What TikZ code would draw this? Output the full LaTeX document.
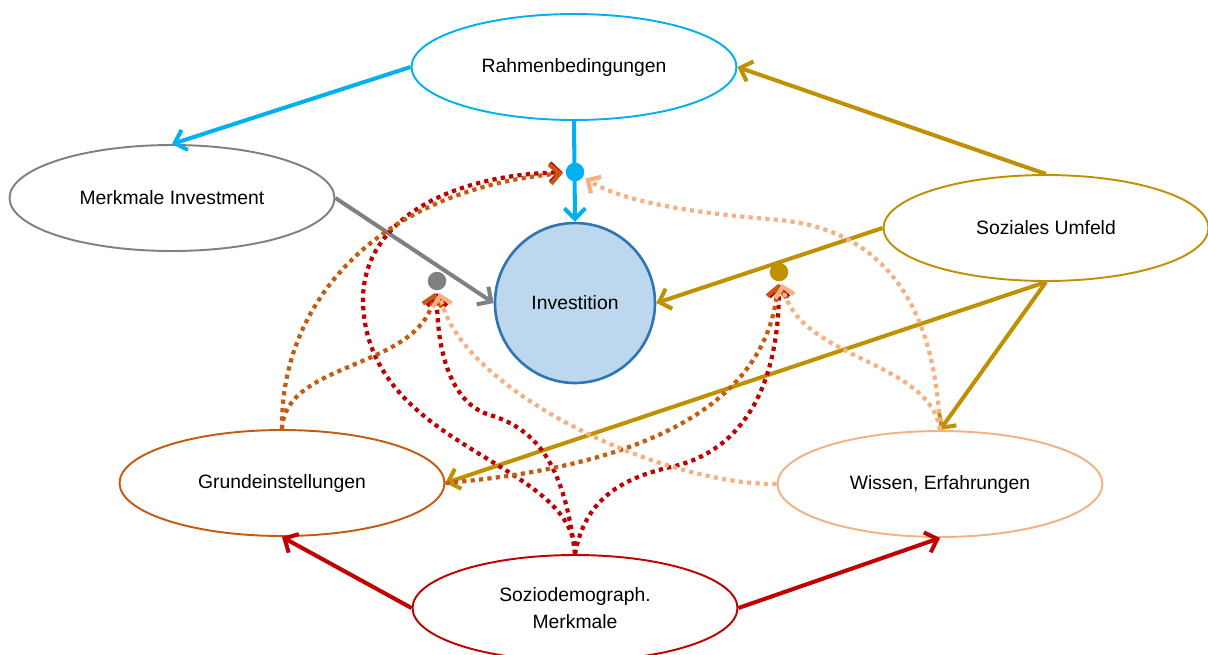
\documentclass[tikz,border=0pt]{standalone}
\usepackage{xcolor}
\usepackage{fontspec}
\setmainfont{Liberation Sans}
\usetikzlibrary{shapes.geometric,arrows.meta}
\definecolor{rahmenblue}{HTML}{00B0F0}
\definecolor{investgray}{HTML}{808080}
\definecolor{umfeldgold}{HTML}{BF9000}
\definecolor{grundorange}{HTML}{C55A11}
\definecolor{wissenorange}{HTML}{F4B183}
\definecolor{soziored}{HTML}{C00000}
\definecolor{investfill}{HTML}{BDD7EE}
\definecolor{investblue}{HTML}{2E75B6}

\tikzset{
  factor/.style={ellipse, draw=#1, line width=1.1pt, fill=white,
    minimum width=6.5cm, minimum height=2.12cm, align=center,
    font=\fontsize{11}{15}\selectfont},
  effect/.style={-{Straight Barb[length=6pt,width=12pt]}, draw=#1, line width=2.3pt},
  moderate/.style={-{Straight Barb[length=5.5pt,width=11pt]}, draw=#1,
    line width=2.4pt, dash pattern=on 2.4pt off 2.4pt, shorten >=1.5pt},
  moddot/.style={circle, fill=#1, inner sep=0pt, minimum size=0.37cm}
}

\begin{document}
\begin{tikzpicture}[x=0.02cm, y=-0.02cm]
    \useasboundingbox (0,0) rectangle (1208,654);

    \node[factor=rahmenblue] (rahmen) at (574,67) {Rahmenbedingungen};
    \node[factor=investgray] (merkmale) at (172,198) {Merkmale Investment};
    \node[factor=umfeldgold] (umfeld) at (1046,228) {Soziales Umfeld};
    \node[factor=grundorange] (grund) at (282,483) {Grundeinstellungen};
    \node[factor=wissenorange] (wissen) at (940,484) {Wissen, Erfahrungen};
    \node[factor=soziored] (sozio) at (575,608) {Soziodemograph.\\Merkmale};
    \node[circle, draw=investblue, fill=investfill, line width=1.5pt,
          minimum size=3.2cm, font=\fontsize{11}{15}\selectfont] (invest) at (575,303) {Investition};

    % direkte Effekte
    \draw[effect=rahmenblue] (rahmen.west) -- (merkmale.north);
    \draw[effect=rahmenblue] (rahmen.south) -- (invest.north);
    \draw[effect=investgray] (merkmale.east) -- (invest.west);
    \draw[effect=umfeldgold] (umfeld.north) -- (rahmen.east);
    \draw[effect=umfeldgold] (umfeld.west) -- (invest.east);
    \draw[effect=umfeldgold] (umfeld.south) -- (grund.east);
    \draw[effect=umfeldgold] (umfeld.south) -- (wissen.north);
    \draw[effect=soziored] (sozio.west) -- (grund.south);
    \draw[effect=soziored] (sozio.east) -- (wissen.south);

    \node[moddot=rahmenblue] (dotrahmen) at (575,172) {};
    \node[moddot=investgray] (dotmerkmale) at (437,281) {};
    \node[moddot=umfeldgold] (dotumfeld) at (779,272) {};

    % moderierende Effekte
    \draw[moderate=soziored] (sozio.north) .. controls (575,460) and (365,450) .. (363,300)
          .. controls (363,220) and (450,175) .. (dotrahmen);
    \draw[moderate=soziored] (sozio.north) .. controls (565,470) and (540,430) .. (490,415)
          .. controls (455,405) and (437,360) .. (dotmerkmale);
    \draw[moderate=soziored] (sozio.north) .. controls (585,500) and (620,478) .. (675,466)
          .. controls (740,450) and (779,390) .. (dotumfeld);

    \draw[moderate=grundorange] (grund.north) .. controls (280,300) and (380,190) .. (dotrahmen);
    \draw[moderate=grundorange] (grund.north) .. controls (285,360) and (420,370) .. (dotmerkmale);
    \draw[moderate=grundorange] (grund.east) .. controls (600,470) and (765,425) .. (dotumfeld);

    \draw[moderate=wissenorange] (wissen.west) .. controls (660,485) and (460,390) .. (dotmerkmale);
    \draw[moderate=wissenorange] (wissen.north) .. controls (930,360) and (800,360) .. (dotumfeld);
    \draw[moderate=wissenorange] (wissen.north) .. controls (935,300) and (880,230) .. (780,220)
          .. controls (680,212) and (620,200) .. (dotrahmen);
\end{tikzpicture}
\end{document}
